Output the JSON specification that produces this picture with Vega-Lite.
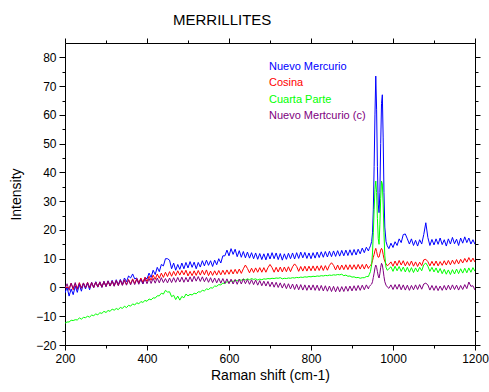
{
"$schema":"https://vega.github.io/schema/vega-lite/v6.json",
"width":410,"height":302,
"autosize":{"type":"none"},
"padding":{"left":65,"top":43,"right":14,"bottom":47},
"background":"white",
"title":{"text":"MERRILLITES","anchor":"start","frame":"group","dx":108,"offset":10,"fontSize":15,"fontWeight":"normal","font":"Liberation Sans","color":"black"},
"config":{"font":"Liberation Sans","view":{"stroke":null},"axis":{"domainColor":"black","domainWidth":1,"tickColor":"black","labelColor":"black","titleColor":"black","grid":false,"labelFontSize":12,"titleFontSize":14,"titleFontWeight":"normal","labelFont":"Liberation Sans","titleFont":"Liberation Sans"}},
"data":{"values":[
{"x":200,"b":-1.9,"r":0.1,"g":-12.4,"p":-0.4},
{"x":205,"b":0.1,"r":0,"g":-12,"p":1.3},
{"x":210,"b":-3,"r":-0.2,"g":-12,"p":-1},
{"x":215,"b":-0.5,"r":1.5,"g":-11.4,"p":1.5},
{"x":220,"b":-2.5,"r":-0.8,"g":-11.5,"p":-0.3},
{"x":225,"b":0.5,"r":1.3,"g":-11.2,"p":1.7},
{"x":230,"b":-1.7,"r":-0.5,"g":-11.3,"p":-0.7},
{"x":235,"b":1,"r":1.7,"g":-10.6,"p":1.4},
{"x":240,"b":-1.3,"r":-0.3,"g":-11,"p":-0.2},
{"x":245,"b":1.4,"r":1.5,"g":-10.4,"p":1.6},
{"x":250,"b":-0.5,"r":-0.1,"g":-10.5,"p":-0.1},
{"x":255,"b":1.5,"r":1.8,"g":-10,"p":1.7},
{"x":260,"b":-0.8,"r":-0.2,"g":-10.3,"p":0},
{"x":265,"b":1.7,"r":1.6,"g":-9.6,"p":1.8},
{"x":270,"b":-0.1,"r":0,"g":-9.8,"p":0.1},
{"x":275,"b":2,"r":1.9,"g":-9.2,"p":1.9},
{"x":280,"b":0.1,"r":0.2,"g":-9.5,"p":0.3},
{"x":285,"b":1.8,"r":1.7,"g":-8.8,"p":2},
{"x":290,"b":0,"r":0.1,"g":-9,"p":0.2},
{"x":295,"b":2.1,"r":2,"g":-8.3,"p":2.1},
{"x":300,"b":0.3,"r":0.4,"g":-8.7,"p":0.4},
{"x":305,"b":2.3,"r":2.1,"g":-8,"p":2.3},
{"x":310,"b":0.5,"r":0.5,"g":-8.3,"p":0.5},
{"x":315,"b":2.5,"r":2.3,"g":-7.5,"p":2.2},
{"x":320,"b":0.7,"r":0.6,"g":-7.9,"p":0.4},
{"x":325,"b":2.7,"r":2.4,"g":-7.3,"p":2.3},
{"x":330,"b":1,"r":0.8,"g":-7.7,"p":0.6},
{"x":335,"b":2.8,"r":2.5,"g":-6.9,"p":2.5},
{"x":340,"b":1.1,"r":0.9,"g":-7.3,"p":0.7},
{"x":345,"b":3.3,"r":2.7,"g":-6.5,"p":2.4},
{"x":350,"b":2,"r":1,"g":-7,"p":0.8},
{"x":355,"b":4,"r":2.8,"g":-6.2,"p":2.6},
{"x":360,"b":3.3,"r":1.3,"g":-6.5,"p":0.9},
{"x":365,"b":4.7,"r":3,"g":-5.7,"p":2.7},
{"x":370,"b":3,"r":1.4,"g":-6.1,"p":1},
{"x":375,"b":3.3,"r":3.1,"g":-5.3,"p":2.8},
{"x":380,"b":1.5,"r":1.6,"g":-5.7,"p":1.1},
{"x":385,"b":3,"r":3.3,"g":-4.9,"p":2.9},
{"x":390,"b":1.3,"r":1.8,"g":-5.2,"p":1.2},
{"x":395,"b":3.5,"r":3.5,"g":-4.5,"p":3},
{"x":400,"b":3,"r":2.1,"g":-4.8,"p":1.3},
{"x":405,"b":5,"r":3.9,"g":-4,"p":3.1},
{"x":410,"b":3.5,"r":2.5,"g":-4.3,"p":1.4},
{"x":415,"b":6,"r":4.3,"g":-3.6,"p":3.2},
{"x":420,"b":4.5,"r":2.8,"g":-3.7,"p":1.5},
{"x":425,"b":7,"r":4.7,"g":-2.9,"p":3.3},
{"x":430,"b":5.5,"r":3.2,"g":-2.9,"p":1.6},
{"x":435,"b":8,"r":5,"g":-2,"p":3.4},
{"x":440,"b":7.5,"r":3.5,"g":-2.3,"p":1.7},
{"x":445,"b":10,"r":5.3,"g":-1,"p":3.1},
{"x":450,"b":10,"r":3.8,"g":-1.6,"p":1.6},
{"x":455,"b":9.5,"r":5.5,"g":-1.5,"p":3.3},
{"x":460,"b":6.5,"r":3.9,"g":-3.2,"p":1.7},
{"x":465,"b":8.5,"r":5.6,"g":-2.7,"p":3.4},
{"x":470,"b":6,"r":4.1,"g":-4.2,"p":1.8},
{"x":475,"b":8,"r":5.8,"g":-3,"p":3.5},
{"x":480,"b":6.3,"r":4.3,"g":-4.4,"p":1.9},
{"x":485,"b":8.5,"r":5.9,"g":-3.1,"p":3.6},
{"x":490,"b":6.5,"r":4.4,"g":-3.6,"p":1.8},
{"x":495,"b":8.7,"r":6,"g":-2.3,"p":3.5},
{"x":500,"b":6.8,"r":4,"g":-2.9,"p":1.9},
{"x":505,"b":9,"r":5.6,"g":-2.4,"p":3.7},
{"x":510,"b":7,"r":4.1,"g":-2.6,"p":2},
{"x":515,"b":8.8,"r":5.8,"g":-2,"p":3.9},
{"x":520,"b":6.5,"r":4.2,"g":-2.2,"p":2.2},
{"x":525,"b":8.7,"r":5.9,"g":-1.5,"p":3.8},
{"x":530,"b":7.1,"r":4.3,"g":-1.6,"p":2.1},
{"x":535,"b":9.3,"r":6,"g":-1,"p":3.7},
{"x":540,"b":7.5,"r":4.4,"g":-1.2,"p":2},
{"x":545,"b":9.5,"r":6.1,"g":-0.5,"p":3.5},
{"x":550,"b":7.7,"r":4.1,"g":-0.7,"p":1.8},
{"x":555,"b":9.3,"r":5.7,"g":-0.1,"p":3.4},
{"x":560,"b":7.3,"r":4.2,"g":-0.2,"p":1.7},
{"x":565,"b":9.5,"r":5.8,"g":0.5,"p":3.3},
{"x":570,"b":7.9,"r":4.3,"g":0.4,"p":1.6},
{"x":575,"b":10,"r":5.9,"g":1,"p":3.2},
{"x":580,"b":8.5,"r":4.4,"g":0.9,"p":1.5},
{"x":585,"b":11,"r":6,"g":1.5,"p":3.1},
{"x":590,"b":11,"r":4.5,"g":1.4,"p":1.4},
{"x":595,"b":13,"r":6.1,"g":2,"p":3},
{"x":600,"b":11,"r":4.6,"g":1.8,"p":1.3},
{"x":605,"b":13.5,"r":6.2,"g":2.3,"p":2.9},
{"x":610,"b":11.5,"r":4.7,"g":2.1,"p":1.2},
{"x":615,"b":13.3,"r":6.3,"g":2.5,"p":2.8},
{"x":620,"b":10.7,"r":4.8,"g":2.3,"p":1.1},
{"x":625,"b":12.8,"r":6.4,"g":2.7,"p":2.9},
{"x":630,"b":10.5,"r":4.9,"g":2.5,"p":1.2},
{"x":635,"b":12.5,"r":6.5,"g":2.9,"p":3},
{"x":640,"b":10.3,"r":7.8,"g":2.6,"p":1.3},
{"x":645,"b":12.3,"r":6.6,"g":3,"p":2.8},
{"x":650,"b":10.2,"r":5.1,"g":2.7,"p":1.1},
{"x":655,"b":12.1,"r":6.7,"g":3.1,"p":2.7},
{"x":660,"b":10,"r":5.2,"g":2.8,"p":1},
{"x":665,"b":12,"r":6.8,"g":3,"p":2.6},
{"x":670,"b":9.8,"r":5.3,"g":2.6,"p":0.8},
{"x":675,"b":11.8,"r":6.9,"g":2.9,"p":2.4},
{"x":680,"b":9.7,"r":5.3,"g":2.7,"p":0.6},
{"x":685,"b":11.7,"r":6.9,"g":3,"p":2.2},
{"x":690,"b":9.6,"r":5.3,"g":2.9,"p":0.5},
{"x":695,"b":11.9,"r":6.9,"g":3.1,"p":2.1},
{"x":700,"b":9.9,"r":8,"g":3,"p":0.3},
{"x":705,"b":12.1,"r":6.9,"g":3.2,"p":1.9},
{"x":710,"b":10,"r":5.3,"g":3.1,"p":0.1},
{"x":715,"b":12,"r":7,"g":3.3,"p":1.8},
{"x":720,"b":9.7,"r":5.4,"g":3.2,"p":0},
{"x":725,"b":11.8,"r":7.1,"g":3.4,"p":1.6},
{"x":730,"b":9.5,"r":5.4,"g":3,"p":-0.2},
{"x":735,"b":11.7,"r":7.1,"g":3.2,"p":1.4},
{"x":740,"b":9.8,"r":5.5,"g":3.1,"p":-0.4},
{"x":745,"b":11.9,"r":7.2,"g":3.3,"p":1.3},
{"x":750,"b":10,"r":5.5,"g":3.2,"p":-0.5},
{"x":755,"b":12,"r":7.2,"g":3.4,"p":1.2},
{"x":760,"b":9.9,"r":8.2,"g":3.3,"p":-0.7},
{"x":765,"b":12.1,"r":7.3,"g":3.5,"p":1.1},
{"x":770,"b":10.1,"r":5.6,"g":3.4,"p":-0.8},
{"x":775,"b":12.3,"r":7.3,"g":3.6,"p":1},
{"x":780,"b":10.3,"r":5.7,"g":3.5,"p":-0.9},
{"x":785,"b":12.2,"r":7.4,"g":3.7,"p":0.9},
{"x":790,"b":10.1,"r":5.7,"g":3.6,"p":-1},
{"x":795,"b":12,"r":7.4,"g":3.8,"p":0.8},
{"x":800,"b":10,"r":5.8,"g":3.7,"p":-0.9},
{"x":805,"b":12.1,"r":7.5,"g":3.9,"p":0.9},
{"x":810,"b":10.2,"r":5.8,"g":3.8,"p":-1},
{"x":815,"b":12.3,"r":7.5,"g":4,"p":0.8},
{"x":820,"b":10.4,"r":5.9,"g":3.9,"p":-1.1},
{"x":825,"b":12.4,"r":7.6,"g":4.1,"p":0.7},
{"x":830,"b":10.5,"r":5.9,"g":4,"p":-1.2},
{"x":835,"b":12.5,"r":7.6,"g":4.2,"p":0.6},
{"x":840,"b":10.6,"r":6,"g":4.1,"p":-1.3},
{"x":845,"b":12.6,"r":7.7,"g":4.3,"p":0.5},
{"x":850,"b":10.7,"r":8.6,"g":4.2,"p":-1.4},
{"x":855,"b":12.7,"r":7.7,"g":4.4,"p":0.4},
{"x":860,"b":10.8,"r":6.1,"g":4.3,"p":-1.5},
{"x":865,"b":12.8,"r":7.8,"g":4.5,"p":0.3},
{"x":870,"b":10.9,"r":6.1,"g":4.4,"p":-1.5},
{"x":875,"b":12.9,"r":7.8,"g":4.6,"p":0.3},
{"x":880,"b":11,"r":6.2,"g":4.1,"p":-1.4},
{"x":885,"b":13,"r":7.9,"g":4.3,"p":0.4},
{"x":890,"b":11.1,"r":6.2,"g":3.9,"p":-1.3},
{"x":895,"b":13.1,"r":7.9,"g":4,"p":0.5},
{"x":900,"b":11.2,"r":6.3,"g":3.6,"p":-1.2},
{"x":905,"b":13.2,"r":7.9,"g":3.7,"p":0.6},
{"x":910,"b":11.3,"r":6.3,"g":3.4,"p":-1.1},
{"x":915,"b":13.3,"r":8,"g":3.5,"p":0.7},
{"x":920,"b":11.7,"r":6.4,"g":3.2,"p":-1},
{"x":925,"b":13.7,"r":8,"g":3.4,"p":0.8},
{"x":930,"b":12.1,"r":6.4,"g":3.4,"p":-0.8},
{"x":935,"b":14,"r":8.1,"g":3.8,"p":0.9},
{"x":940,"b":12.7,"r":6.6,"g":3.8,"p":-0.5},
{"x":942,"b":13.5,"r":7.2,"g":4.5,"p":0.3},
{"x":945,"b":14.5,"r":7.6,"g":5.5,"p":0.8},
{"x":948,"b":16,"r":8.3,"g":8,"p":1.2},
{"x":950,"b":19,"r":9.3,"g":12,"p":2},
{"x":952,"b":27,"r":10.5,"g":19,"p":3.5},
{"x":954,"b":42,"r":11.5,"g":27,"p":5},
{"x":956,"b":60,"r":12.8,"g":34,"p":6.8},
{"x":958,"b":73.5,"r":13.6,"g":37,"p":7.8},
{"x":960,"b":62,"r":12.5,"g":33,"p":7},
{"x":962,"b":42,"r":11.2,"g":24,"p":5.5},
{"x":964,"b":29,"r":10.5,"g":17,"p":4},
{"x":966,"b":26,"r":10.6,"g":15,"p":3.3},
{"x":968,"b":33,"r":11.8,"g":22,"p":4.8},
{"x":970,"b":50,"r":13,"g":31,"p":7},
{"x":972,"b":64,"r":13.6,"g":37,"p":8.4},
{"x":974,"b":67,"r":13,"g":36,"p":7.8},
{"x":976,"b":52,"r":11.5,"g":29,"p":6},
{"x":978,"b":33,"r":10,"g":19,"p":3.8},
{"x":980,"b":21,"r":9,"g":11,"p":2},
{"x":983,"b":16,"r":8.2,"g":7,"p":0.8},
{"x":986,"b":14.5,"r":7.6,"g":6,"p":0.2},
{"x":990,"b":13.5,"r":8,"g":6.5,"p":-0.3},
{"x":995,"b":15.4,"r":8.9,"g":7.2,"p":0.9},
{"x":1000,"b":13.9,"r":7.4,"g":5.6,"p":-0.7},
{"x":1005,"b":15.9,"r":9.2,"g":7.4,"p":1},
{"x":1010,"b":14.6,"r":7.6,"g":5.8,"p":-0.6},
{"x":1015,"b":16.9,"r":9.4,"g":7.3,"p":1.1},
{"x":1020,"b":15.6,"r":7.8,"g":5.6,"p":-0.8},
{"x":1025,"b":18.4,"r":9.3,"g":7.1,"p":0.9},
{"x":1030,"b":18.6,"r":7.5,"g":5.4,"p":-0.9},
{"x":1035,"b":16.9,"r":9,"g":7,"p":0.8},
{"x":1040,"b":15.1,"r":7.6,"g":5.3,"p":-1},
{"x":1045,"b":16.9,"r":9.2,"g":6.9,"p":0.7},
{"x":1050,"b":14.6,"r":7.4,"g":5.2,"p":-0.8},
{"x":1055,"b":16.4,"r":8.9,"g":6.8,"p":0.9},
{"x":1060,"b":14.4,"r":7.3,"g":5.4,"p":-0.7},
{"x":1065,"b":16.6,"r":8.8,"g":7,"p":1},
{"x":1070,"b":15.1,"r":7.6,"g":5.8,"p":-0.6},
{"x":1075,"b":18.4,"r":9.6,"g":7.9,"p":1.2},
{"x":1080,"b":22.5,"r":9.8,"g":8.5,"p":1.5},
{"x":1085,"b":17.4,"r":9,"g":7.4,"p":0.9},
{"x":1090,"b":14.6,"r":7.5,"g":5.6,"p":-0.9},
{"x":1095,"b":16.7,"r":9.1,"g":7,"p":0.7},
{"x":1100,"b":14.8,"r":7.6,"g":5.4,"p":-1},
{"x":1105,"b":16.9,"r":9.2,"g":6.8,"p":0.6},
{"x":1110,"b":15,"r":7.5,"g":5.1,"p":-1.1},
{"x":1115,"b":17.2,"r":9,"g":6.6,"p":0.5},
{"x":1120,"b":14.9,"r":7.7,"g":4.8,"p":-1},
{"x":1125,"b":16.6,"r":9.3,"g":6.3,"p":0.7},
{"x":1130,"b":14.4,"r":7.8,"g":4.6,"p":-0.9},
{"x":1135,"b":16.9,"r":9.4,"g":6.1,"p":0.8},
{"x":1140,"b":15.1,"r":7.9,"g":4.5,"p":-0.8},
{"x":1145,"b":17.4,"r":9.5,"g":6.2,"p":0.9},
{"x":1150,"b":15.2,"r":8.1,"g":4.7,"p":-0.7},
{"x":1155,"b":16.8,"r":9.7,"g":6.4,"p":0.8},
{"x":1160,"b":14.6,"r":8.2,"g":4.8,"p":-0.9},
{"x":1165,"b":17.2,"r":9.8,"g":6.5,"p":0.7},
{"x":1170,"b":15.4,"r":8.5,"g":5,"p":-0.7},
{"x":1175,"b":17.6,"r":10.1,"g":6.7,"p":1},
{"x":1180,"b":15.6,"r":8.8,"g":5.1,"p":-0.4},
{"x":1185,"b":17.2,"r":10.4,"g":6.8,"p":1.9},
{"x":1190,"b":15.1,"r":8.9,"g":5.3,"p":0.4},
{"x":1195,"b":16.6,"r":10.2,"g":6.9,"p":0.6},
{"x":1200,"b":15,"r":8.8,"g":5.6,"p":-0.9}
]},
"transform":[{"fold":["b","r","g","p"],"as":["s","v"]}],
"layer":[
{"mark":{"type":"line","strokeWidth":1,"clip":true},
 "encoding":{
  "x":{"field":"x","type":"quantitative","scale":{"domain":[200,1200],"nice":false,"zero":false},
   "axis":{"orient":"bottom","values":[200,300,400,500,600,700,800,900,1000,1100,1200],"format":"d","labelExpr":"datum.value % 200 === 0 ? datum.label : ''","tickSize":{"condition":{"test":"datum.value % 200 === 0","value":5},"value":3},"labelPadding":3,"title":"Raman shift (cm-1)","titlePadding":4,"labelFlush":false,"labelOverlap":false}},
  "y":{"field":"v","type":"quantitative","scale":{"domain":[-20,85],"nice":false,"zero":false},
   "axis":{"orient":"left","values":[-20,-15,-10,-5,0,5,10,15,20,25,30,35,40,45,50,55,60,65,70,75,80],"labelExpr":"datum.value % 10 === 0 ? datum.label : ''","tickSize":{"condition":{"test":"datum.value % 10 === 0","value":6},"value":3},"labelPadding":3,"title":"Intensity","titlePadding":12,"labelOverlap":false}},
  "color":{"field":"s","type":"nominal","scale":{"domain":["b","r","g","p"],"range":["#0000FF","#FF0000","#00FF00","#800080"]},
   "legend":{"orient":"none","legendX":193,"legendY":18,"title":null,"symbolSize":0,"symbolStrokeWidth":0,"labelOffset":0,"labelFontSize":11,"rowPadding":4.5,"padding":0,
    "labelExpr":"{'b':'Nuevo Mercurio','r':' Cosina','g':'Cuarta Parte','p':'Nuevo Mertcurio (c)'}[datum.label]",
    "encode":{"labels":{"update":{"fill":{"scale":"color","field":"value"}}}}}}
 }},
{"mark":{"type":"point","opacity":0},
 "encoding":{
  "x":{"field":"x","type":"quantitative","axis":{"orient":"top","values":[200,300,400,500,600,700,800,900,1000,1100,1200],"labels":false,"title":null,"tickSize":{"condition":{"test":"datum.value % 200 === 0","value":5},"value":3}}},
  "y":{"field":"v","type":"quantitative","axis":{"orient":"right","values":[-20,-15,-10,-5,0,5,10,15,20,25,30,35,40,45,50,55,60,65,70,75,80],"labels":false,"title":null,"tickSize":{"condition":{"test":"datum.value % 10 === 0","value":5},"value":3}}}
 }}
],
"resolve":{"axis":{"x":"independent","y":"independent"}}
}
